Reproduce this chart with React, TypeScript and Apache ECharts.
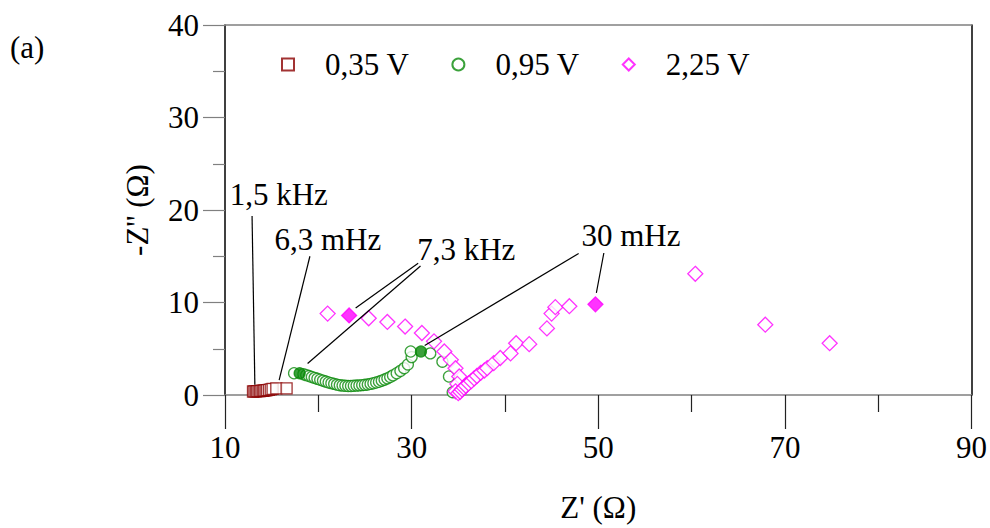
import React, { useEffect, useRef } from "react";
import * as echarts from "echarts";

const FONT = "'Liberation Serif', 'Times New Roman', serif";

const seriesNames = ["0,35 V", "0,95 V", "2,25 V"];
const seriesColors = ["#8b0000", "#0a8a0a", "#ff00ff"];

const xMin = 10;
const xMax = 90;
const xStep = 20;
const yMin = 0;
const yMax = 40;
const yStep = 10;

const xTitle = "Z' (Ω)";
const yTitle = "-Z'' (Ω)";
const panelLabel = "(a)";

// 0,35 V (open squares)
const points035: [number, number][] = [
  [13.0, 0.38], [13.15, 0.39], [13.3, 0.4], [13.45, 0.41], [13.6, 0.42],
  [13.75, 0.43], [13.9, 0.44], [14.05, 0.46], [14.2, 0.48], [14.35, 0.5],
  [14.5, 0.53], [14.7, 0.56], [14.9, 0.6], [15.1, 0.66], [15.5, 0.72],
  [16.6, 0.72],
];

// 0,95 V (open circles)
const points095: [number, number][] = [
  [17.4, 2.35], [18.4, 2.25], [18.7, 2.15], [19.0, 2.05], [19.3, 1.95],
  [19.6, 1.85], [19.9, 1.75], [20.2, 1.65], [20.5, 1.55], [20.8, 1.45],
  [21.1, 1.35], [21.4, 1.28], [21.7, 1.2], [22.0, 1.12], [22.3, 1.06],
  [22.6, 1.02], [22.9, 1.0], [23.2, 0.98], [23.5, 0.98], [23.8, 1.0],
  [24.1, 1.02], [24.4, 1.04], [24.7, 1.07], [25.0, 1.1], [25.3, 1.14],
  [25.6, 1.2], [25.9, 1.27], [26.2, 1.35], [26.5, 1.43], [26.8, 1.55],
  [27.1, 1.67], [27.4, 1.8], [27.7, 1.95], [28.0, 2.12], [28.4, 2.35],
  [28.8, 2.6], [29.2, 2.9], [29.6, 3.3], [30.0, 4.1], [29.9, 4.7],
  [32.0, 4.5], [33.3, 3.6], [34.0, 2.0], [34.4, 0.3],
];
// 0,95 V filled markers (7,3 kHz and 30 mHz)
const filled095: [number, number][] = [
  [18.0, 2.35], [31.0, 4.7],
];

// 2,25 V (open diamonds)
const points225: [number, number][] = [
  [21.0, 8.8], [25.4, 8.3], [27.4, 7.9], [29.3, 7.4], [31.1, 6.7],
  [32.4, 5.8], [33.5, 4.7], [34.2, 3.8], [34.7, 2.9], [35.1, 2.0],
  [34.9, 1.2], [34.7, 0.4], [35.0, 0.2], [35.2, 0.35], [35.4, 0.6],
  [35.6, 0.8], [35.8, 1.0], [36.1, 1.25], [36.4, 1.5], [36.7, 1.8],
  [37.0, 2.05], [37.4, 2.4], [37.8, 2.65], [38.1, 2.9], [38.8, 3.45],
  [39.5, 4.0], [40.6, 4.5], [41.2, 5.6], [42.6, 5.5], [44.5, 7.2],
  [45.0, 8.8], [45.4, 9.5], [46.9, 9.6], [60.4, 13.1], [67.9, 7.6],
  [74.8, 5.6],
];
// 2,25 V filled markers (7,3 kHz and 30 mHz)
const filled225: [number, number][] = [
  [23.3, 8.6], [49.7, 9.8],
];

// Frequency annotations: text anchor (left, middle) and leader lines, in data units
const annotationTexts = ["1,5 kHz", "6,3 mHz", "7,3 kHz", "30 mHz"];
const annotationAnchors: [number, number][] = [
  [10.5, 21.7], [15.3, 16.8], [30.6, 15.7], [48.2, 17.2],
];
const annotationLines: [number, number][][][] = [
  [[[12.9, 19.35], [13.2, 1.1]]],
  [[[19.1, 15.0], [15.8, 1.6]]],
  [[[30.7, 14.25], [24.0, 9.4]], [[30.95, 13.95], [18.85, 3.4]]],
  [[[47.9, 15.3], [31.4, 5.35]], [[50.6, 15.35], [49.8, 11.05]]],
];

export default function App() {
  const ref = useRef<HTMLDivElement>(null);

  useEffect(() => {
    if (!ref.current) return;
    const chart = echarts.init(ref.current, undefined, { renderer: "svg" });

    const markerStyle = (c: string) => ({
      color: "#ffffff",
      borderColor: c,
      borderWidth: 1.3,
    });

    const option: any = {
      animation: false,
      backgroundColor: "#ffffff",
      textStyle: { fontFamily: FONT },
      grid: { left: 225, top: 25, width: 750, height: 375, containLabel: false },
      legend: {
        left: 276,
        top: 44,
        itemWidth: 12,
        itemHeight: 12,
        itemGap: 42,
        data: [
          { name: seriesNames[0], icon: "rect" },
          { name: seriesNames[1], icon: "circle" },
          { name: seriesNames[2], icon: "diamond" },
        ],
        textStyle: {
          fontFamily: FONT,
          fontSize: 31,
          color: "#000",
          padding: [0, 0, 0, 26],
        },
      },
      xAxis: [
        {
          type: "value",
          min: xMin,
          max: xMax,
          interval: xStep,
          position: "bottom",
          name: xTitle,
          nameLocation: "middle",
          nameGap: 97,
          nameTextStyle: { fontFamily: FONT, fontSize: 31, color: "#000" },
          axisLine: { show: true, onZero: false, lineStyle: { color: "#808080", width: 1.5 } },
          axisTick: { show: true, inside: false, length: 34, lineStyle: { color: "#222", width: 1.2 } },
          minorTick: { show: true, splitNumber: 2, length: 17, lineStyle: { color: "#222", width: 1.2 } },
          axisLabel: { fontFamily: FONT, fontSize: 31, color: "#000", margin: 37 },
          splitLine: { show: false },
        },
        {
          type: "value",
          min: xMin,
          max: xMax,
          position: "top",
          axisLine: { show: true, onZero: false, lineStyle: { color: "#808080", width: 1.5 } },
          axisTick: { show: false },
          axisLabel: { show: false },
          splitLine: { show: false },
        },
      ],
      yAxis: [
        {
          type: "value",
          min: yMin,
          max: yMax,
          interval: yStep,
          position: "left",
          name: yTitle,
          nameLocation: "middle",
          nameGap: 72,
          nameTextStyle: { fontFamily: FONT, fontSize: 31, color: "#000" },
          axisLine: { show: true, onZero: false, lineStyle: { color: "#000", width: 1.5 } },
          axisTick: { show: true, inside: false, length: 22, lineStyle: { color: "#808080", width: 1.2 } },
          minorTick: { show: true, splitNumber: 2, length: 12, lineStyle: { color: "#808080", width: 1.2 } },
          axisLabel: { fontFamily: FONT, fontSize: 31, color: "#000", margin: 26 },
          splitLine: { show: false },
        },
        {
          type: "value",
          min: yMin,
          max: yMax,
          position: "right",
          axisLine: { show: true, onZero: false, lineStyle: { color: "#000", width: 1.5 } },
          axisTick: { show: false },
          axisLabel: { show: false },
          splitLine: { show: false },
        },
      ],
      series: [
        {
          name: seriesNames[0],
          type: "scatter",
          symbol: "rect",
          symbolSize: 11,
          itemStyle: markerStyle(seriesColors[0]),
          data: points035,
        },
        {
          name: seriesNames[1],
          type: "scatter",
          symbol: "circle",
          symbolSize: 11,
          itemStyle: markerStyle(seriesColors[1]),
          data: [
            ...points095,
            ...filled095.map((p) => ({ value: p, itemStyle: { color: seriesColors[1] } })),
          ],
        },
        {
          name: seriesNames[2],
          type: "scatter",
          symbol: "diamond",
          symbolSize: 15,
          itemStyle: markerStyle(seriesColors[2]),
          data: [
            ...points225,
            ...filled225.map((p) => ({ value: p, itemStyle: { color: seriesColors[2] } })),
          ],
        },
      ],
    };

    chart.setOption(option);

    const toPx = (p: [number, number]) =>
      chart.convertToPixel({ xAxisIndex: 0, yAxisIndex: 0 }, p) as number[];

    const graphics: any[] = [
      {
        type: "text",
        x: 10,
        y: 47,
        style: {
          text: panelLabel,
          font: `31px ${FONT}`,
          fill: "#000",
          align: "left",
          verticalAlign: "middle",
        },
      },
    ];
    annotationTexts.forEach((t, i) => {
      const a = toPx(annotationAnchors[i]);
      graphics.push({
        type: "text",
        x: a[0],
        y: a[1],
        style: {
          text: t,
          font: `31px ${FONT}`,
          fill: "#000",
          align: "left",
          verticalAlign: "middle",
        },
      });
      annotationLines[i].forEach((ln) => {
        const p1 = toPx(ln[0]);
        const p2 = toPx(ln[1]);
        graphics.push({
          type: "line",
          shape: { x1: p1[0], y1: p1[1], x2: p2[0], y2: p2[1] },
          style: { stroke: "#000", lineWidth: 1.2 },
          z: 10,
        });
      });
    });
    chart.setOption({ graphic: graphics });

    return () => chart.dispose();
  }, []);

  return (
    <div
      ref={ref}
      style={{ position: "fixed", left: 0, top: 0, width: 990, height: 528, background: "#fff" }}
    />
  );
}
